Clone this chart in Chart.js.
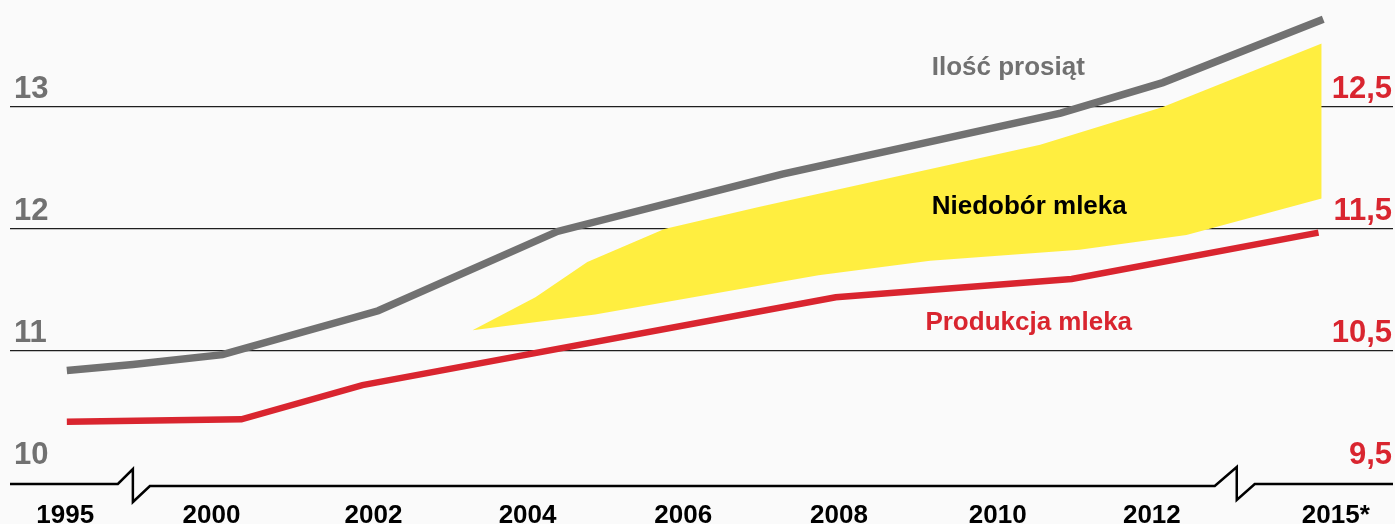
<!DOCTYPE html>
<html>
<head>
<meta charset="utf-8">
<script src="https://cdn.jsdelivr.net/npm/chart.js@4.4.1/dist/chart.umd.min.js"></script>
<style>
  html, body { margin: 0; padding: 0; background: #fafafa; }
  #wrap { width: 1395px; height: 524px; }
</style>
</head>
<body>
<div id="wrap"><canvas id="chart"></canvas></div>
<script>
const years = ['1995', '2000', '2002', '2004', '2006', '2008', '2010', '2012', '2015*'];
// where each year label sits on the x axis (the axis is broken, so spacing is uneven)
const yearPos = [0.05, 0.98, 2.01, 2.99, 3.98, 4.97, 5.98, 6.96, 8.13];

// x = position on the year axis (0 = 1995 ... 8 = 2015*)
const pigletX = [0.06, 0.48, 1.05, 2.04, 3.18, 4.61, 6.38, 7.03, 8.05];
const pigletY = [10.84, 10.89, 10.97, 11.33, 11.98, 12.45, 12.95, 13.20, 13.72];

// milk production, read on the right axis
const milkX = [0.06, 1.17, 1.94, 4.95, 6.45, 8.02];
const milkY = [9.92, 9.94, 10.22, 10.94, 11.09, 11.47];

// milk shortage band, upper and lower edge (left axis)
const gapTopX = [2.64, 3.04, 3.37, 3.86, 4.46, 6.25, 7.03, 8.04];
const gapTopY = [11.17, 11.44, 11.73, 12.00, 12.18, 12.69, 13.00, 13.52];
const gapBottomX = [2.64, 3.42, 4.84, 5.55, 6.50, 7.18, 8.04];
const gapBottomY = [11.17, 11.30, 11.62, 11.74, 11.83, 11.95, 12.25];

const leftTicks = [10, 11, 12, 13];
const rightTicks = [9.5, 10.5, 11.5, 12.5];

const gray = '#717171';
const red = '#d9252f';
const yellow = '#ffee40';
const font = "'Liberation Sans', Arial, sans-serif";

const zip = (xs, ys) => xs.map((x, i) => ({ x: x, y: ys[i] }));

const brokenAxis = {
    id: 'brokenAxis',
    afterDraw(chart) {
        const { ctx, chartArea } = chart;
        const x = chart.scales.x;
        const b = chartArea.bottom;
        const l = x.getPixelForValue(0.48);
        const r = x.getPixelForValue(7.5);
        ctx.save();
        ctx.strokeStyle = '#000';
        ctx.lineWidth = 2.5;
        ctx.beginPath();
        ctx.moveTo(chartArea.left, b - 2);
        ctx.lineTo(l - 15, b - 2);
        ctx.lineTo(l, b - 17);
        ctx.lineTo(l, b + 16);
        ctx.lineTo(l + 17, b);
        ctx.lineTo(r - 22, b);
        ctx.lineTo(r, b - 19);
        ctx.lineTo(r, b + 14);
        ctx.lineTo(r + 18, b - 2);
        ctx.lineTo(chartArea.right, b - 2);
        ctx.stroke();
        ctx.restore();
    }
};

const seriesNames = {
    id: 'seriesNames',
    afterDatasetsDraw(chart) {
        const { ctx } = chart;
        const x = chart.scales.x;
        const y = chart.scales.y;
        const names = [
            ['Ilość prosiąt', 5.56, 13.26, gray],
            ['Niedobór mleka', 5.56, 12.12, '#000'],
            ['Produkcja mleka', 5.52, 11.17, red]
        ];
        ctx.save();
        ctx.font = 'bold 26px ' + font;
        ctx.textAlign = 'left';
        ctx.textBaseline = 'alphabetic';
        names.forEach(n => {
            ctx.fillStyle = n[3];
            ctx.fillText(n[0], x.getPixelForValue(n[1]), y.getPixelForValue(n[2]));
        });
        ctx.restore();
    }
};

new Chart(document.getElementById('chart'), {
    type: 'line',
    data: {
        datasets: [
            {
                label: 'Ilość prosiąt',
                data: zip(pigletX, pigletY),
                yAxisID: 'y',
                borderColor: gray,
                borderWidth: 7.5,
                fill: false,
                order: 0
            },
            {
                label: 'Produkcja mleka',
                data: zip(milkX, milkY),
                yAxisID: 'y2',
                borderColor: red,
                borderWidth: 6.5,
                fill: false,
                order: 1
            },
            {
                label: 'Niedobór mleka',
                data: zip(gapTopX, gapTopY),
                yAxisID: 'y',
                borderColor: 'rgba(0,0,0,0)',
                borderWidth: 0,
                backgroundColor: yellow,
                fill: '+1',
                order: 2
            },
            {
                label: 'Niedobór mleka (dół)',
                data: zip(gapBottomX, gapBottomY),
                yAxisID: 'y',
                borderColor: 'rgba(0,0,0,0)',
                borderWidth: 0,
                fill: false,
                order: 3
            }
        ]
    },
    options: {
        responsive: true,
        maintainAspectRatio: false,
        animation: false,
        layout: { padding: { left: 10, right: 2, top: 0, bottom: 0 } },
        elements: {
            point: { radius: 0 },
            line: { tension: 0, borderCapStyle: 'butt', borderJoinStyle: 'miter' }
        },
        plugins: {
            legend: { display: false },
            tooltip: { enabled: false }
        },
        scales: {
            x: {
                type: 'linear',
                position: 'bottom',
                min: -0.3014,
                max: 8.4936,
                grid: { display: false },
                border: { display: false },
                afterBuildTicks: s => { s.ticks = yearPos.map(v => ({ value: v })); },
                afterFit: s => { s.height = 38; },
                ticks: {
                    autoSkip: false,
                    maxRotation: 0,
                    padding: 6,
                    color: '#000',
                    font: { family: font, size: 26, weight: 'bold' },
                    callback: (v, i) => years[i]
                }
            },
            y: {
                type: 'linear',
                position: 'left',
                min: 9.8934,
                max: 13.877,
                z: 1,
                border: { display: false },
                grid: {
                    drawTicks: false,
                    lineWidth: 1.2,
                    color: c => (c.tick && c.tick.value === 10) ? 'rgba(0,0,0,0)' : '#1e1e1e'
                },
                afterBuildTicks: s => { s.ticks = leftTicks.map(v => ({ value: v })); },
                afterFit: s => { s.width = 0; s.paddingTop = 0; s.paddingBottom = 0; },
                ticks: {
                    mirror: true,
                    padding: 4,
                    labelOffset: -18,
                    color: gray,
                    font: { family: font, size: 31, weight: 'bold' }
                }
            },
            y2: {
                type: 'linear',
                position: 'right',
                min: 9.3934,
                max: 13.377,
                border: { display: false },
                grid: { display: false, drawTicks: false },
                afterBuildTicks: s => { s.ticks = rightTicks.map(v => ({ value: v })); },
                afterFit: s => { s.width = 0; s.paddingTop = 0; s.paddingBottom = 0; },
                ticks: {
                    mirror: true,
                    padding: -1,
                    labelOffset: -18,
                    color: red,
                    font: { family: font, size: 31, weight: 'bold' },
                    callback: v => v.toFixed(1).replace('.', ',')
                }
            }
        }
    },
    plugins: [brokenAxis, seriesNames]
});
</script>
</body>
</html>
